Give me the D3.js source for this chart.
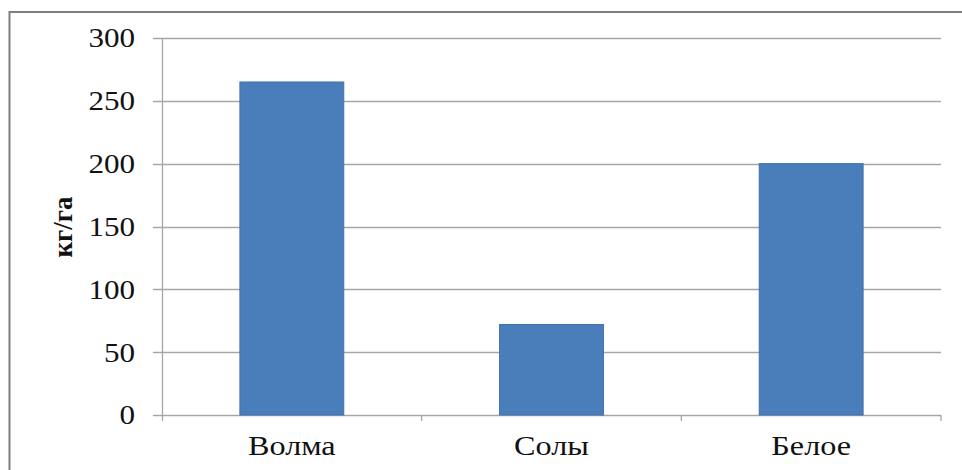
<!DOCTYPE html>
<html>
<head>
<meta charset="utf-8">
<script src="https://cdn.jsdelivr.net/npm/d3@7"></script>
<style>
  body { margin: 0; background: #fff; }
  svg { display: block; }
</style>
</head>
<body>
<div id="chart"></div>
<script>
// data
var categories = ["Волма", "Солы", "Белое"];
var values = [265, 72, 200];
var yTicks = [0, 50, 100, 150, 200, 250, 300];

var W = 962, H = 470;
var margin = {top: 38, right: 21, bottom: 55, left: 162};
var width = W - margin.left - margin.right,
    height = H - margin.top - margin.bottom;
var stretch = 1.15; // the source text looks a bit wide

var svg = d3.select("#chart")
  .append("svg")
  .attr("width", W)
  .attr("height", H);

// outer frame
svg.append("rect")
  .attr("x", 9.5)
  .attr("y", 12)
  .attr("width", W)
  .attr("height", H)
  .attr("fill", "none")
  .attr("stroke", "#7f7f7f")
  .attr("stroke-width", 2);

var g = svg.append("g")
  .attr("transform", "translate(" + margin.left + "," + margin.top + ")");

var x = d3.scaleBand()
  .domain(categories)
  .range([0, width])
  .paddingInner(0.6)
  .paddingOuter(0.3);

// plain band for the category ticks
var xCat = d3.scaleBand()
  .domain(categories)
  .range([0, width]);

var y = d3.scaleLinear()
  .domain([0, 300])
  .range([height, 0]);

// gridlines
g.selectAll(".grid")
  .data(yTicks)
  .enter()
  .append("line")
  .attr("x1", -9)
  .attr("x2", width)
  .attr("y1", d => Math.round(y(d)) + 0.5)
  .attr("y2", d => Math.round(y(d)) + 0.5)
  .attr("stroke", "#a6a6a6")
  .attr("stroke-width", 1.3);

// y axis line
g.append("line")
  .attr("x1", 0.5).attr("x2", 0.5)
  .attr("y1", 0).attr("y2", height + 6)
  .attr("stroke", "#a6a6a6")
  .attr("stroke-width", 1.3);

// category ticks
g.selectAll(".xtick")
  .data(categories)
  .enter()
  .append("line")
  .attr("x1", d => xCat(d) + xCat.bandwidth())
  .attr("x2", d => xCat(d) + xCat.bandwidth())
  .attr("y1", height)
  .attr("y2", height + 6)
  .attr("stroke", "#a6a6a6")
  .attr("stroke-width", 1.3);

// bars
g.selectAll(".bar")
  .data(values)
  .enter()
  .append("rect")
  .attr("x", (d, i) => x(categories[i]))
  .attr("y", d => y(d))
  .attr("width", x.bandwidth())
  .attr("height", d => height - y(d))
  .attr("fill", "#4a7ebb")
  .attr("stroke", "#3f71b0")
  .attr("stroke-width", 1);

// y tick labels
g.selectAll(".ylab")
  .data(yTicks)
  .enter()
  .append("text")
  .attr("transform", d => "translate(-27," + y(d) + ") scale(" + stretch + ",1)")
  .attr("dy", "0.35em")
  .attr("text-anchor", "end")
  .style("font-family", "'Liberation Serif', serif")
  .style("font-size", "27px")
  .attr("fill", "#111")
  .text(d => d);

// x labels
g.selectAll(".xlab")
  .data(categories)
  .enter()
  .append("text")
  .attr("transform", d => "translate(" + (x(d) + x.bandwidth() / 2) + "," + (height + 40) + ") scale(" + stretch + ",1)")
  .attr("text-anchor", "middle")
  .style("font-family", "'Liberation Serif', serif")
  .style("font-size", "28px")
  .attr("fill", "#111")
  .text(d => d);

// y title
svg.append("text")
  .attr("transform", "translate(72,227) rotate(-90)")
  .attr("text-anchor", "middle")
  .style("font-family", "'Liberation Serif', serif")
  .style("font-size", "27px")
  .style("font-weight", "bold")
  .attr("fill", "#111")
  .text("кг/га");
</script>
</body>
</html>
